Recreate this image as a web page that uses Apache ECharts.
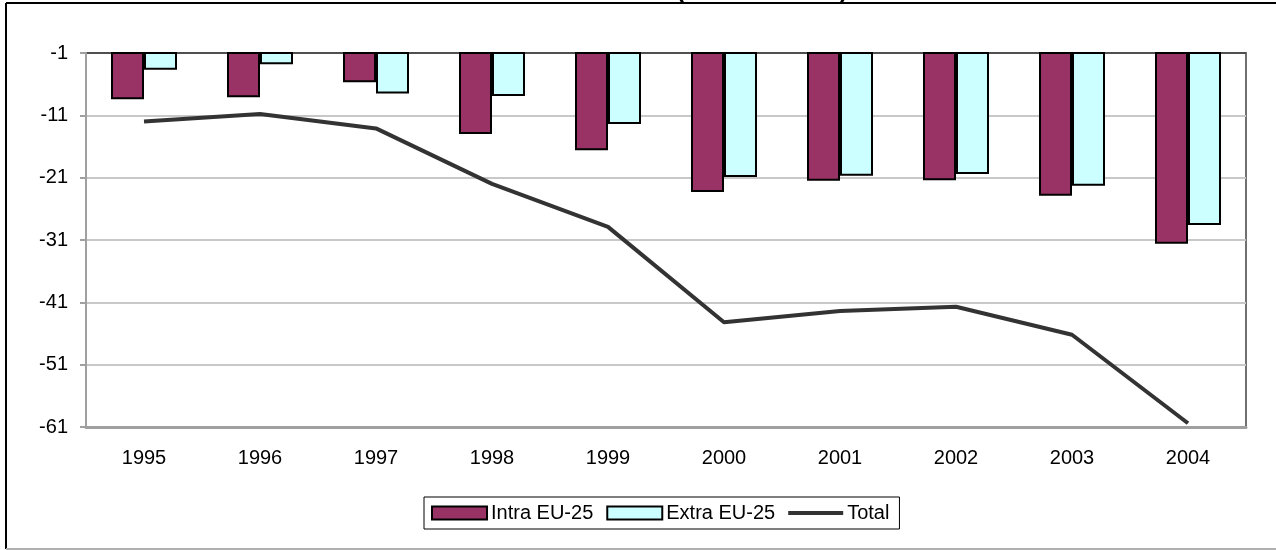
<!DOCTYPE html>
<html>
<head>
<meta charset="utf-8">
<script src="https://cdn.jsdelivr.net/npm/echarts@6/dist/echarts.min.js"></script>
<style>
html,body{margin:0;padding:0;background:#fff;}
#chart{width:1276px;height:550px;}
</style>
</head>
<body>
<div id="chart"></div>
<script>
var years = ['1995','1996','1997','1998','1999','2000','2001','2002','2003','2004'];
var intraEU = [-8.4, -8.1, -5.7, -14.0, -16.6, -23.3, -21.5, -21.4, -23.9, -31.6];
var extraEU = [-3.7, -2.8, -7.5, -7.9, -12.4, -20.9, -20.7, -20.4, -22.3, -28.6];
var total = [-12.0, -10.8, -13.1, -22.0, -28.9, -44.2, -42.4, -41.7, -46.2, -60.4];
var yTicks = {min: -61, max: -1, interval: 10};

var chart = echarts.init(document.getElementById('chart'));
var font = 'Arial, "Liberation Sans", sans-serif';
chart.setOption({
  animation: false,
  backgroundColor: '#ffffff',
  textStyle: {fontFamily: font},
  graphic: [
    {type: 'line', shape: {x1: 6, y1: 3, x2: 1276, y2: 3}, style: {stroke: '#000', lineWidth: 2}},
    {type: 'line', shape: {x1: 6, y1: 3, x2: 6, y2: 549}, style: {stroke: '#000', lineWidth: 2}},
    {type: 'line', shape: {x1: 6, y1: 549, x2: 1276, y2: 549}, style: {stroke: '#b0b0b0', lineWidth: 2}},
    {type: 'text', left: 676, top: -22, z: 0,
      style: {text: '(in billion EUR)', font: 'bold 24px ' + font, fill: '#000'}}
  ],
  grid: {left: 86, right: 30, top: 53, bottom: 123, show: true, borderColor: '#707070', borderWidth: 2, backgroundColor: 'transparent'},
  legend: {
    left: 424, top: 497,
    padding: [6, 10, 6, 7],
    borderColor: '#000', borderWidth: 1,
    itemWidth: 55, itemHeight: 13, itemGap: 13,
    symbolKeepAspect: true,
    textStyle: {fontSize: 20, color: '#000', fontFamily: font, padding: [0, 0, 0, -1]},
    data: [
      {name: 'Intra EU-25', icon: 'rect'},
      {name: 'Extra EU-25', icon: 'rect'},
      {name: 'Total', icon: 'path://M0,0L100,0L100,7.5L0,7.5Z', itemStyle: {color: '#333333', borderWidth: 0}}
    ]
  },
  xAxis: {
    type: 'category',
    data: years,
    axisLine: {onZero: false, lineStyle: {color: '#a0a0a0', width: 3}},
    axisTick: {show: false},
    axisLabel: {fontSize: 20, color: '#000', margin: 21, fontFamily: font}
  },
  yAxis: {
    type: 'value',
    min: yTicks.min, max: yTicks.max, interval: yTicks.interval,
    axisLine: {show: true, lineStyle: {color: '#a0a0a0', width: 2}},
    axisTick: {show: true, length: 6, lineStyle: {color: '#a0a0a0', width: 2}},
    axisLabel: {fontSize: 20, color: '#000', margin: 18, fontFamily: font},
    splitLine: {show: true, lineStyle: {color: ['#c8c8c8','#c8c8c8','#c8c8c8','#c8c8c8','#c8c8c8','#c8c8c8','#505050'], width: 2}}
  },
  series: [
    {
      name: 'Intra EU-25', type: 'bar', data: intraEU,
      barWidth: 33, barGap: '0%', clip: true,
      itemStyle: {color: '#993366', borderColor: '#000', borderWidth: 2}
    },
    {
      name: 'Extra EU-25', type: 'bar', data: extraEU,
      barWidth: 33, barGap: '0%', clip: true,
      itemStyle: {color: '#CCFFFF', borderColor: '#000', borderWidth: 2}
    },
    {
      name: 'Total', type: 'line', data: total,
      symbol: 'none',
      lineStyle: {color: '#333333', width: 4},
      itemStyle: {color: '#333333'}
    }
  ]
});
</script>
</body>
</html>
